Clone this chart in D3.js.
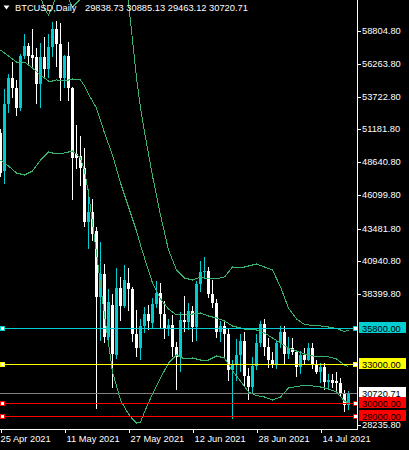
<!DOCTYPE html>
<html>
<head>
<meta charset="utf-8">
<script src="https://cdn.jsdelivr.net/npm/d3@7"></script>
<style>
  body { margin: 0; background: #000; }
  svg { display: block; font-family: "Liberation Sans", Arial, sans-serif; }
</style>
</head>
<body>
<div id="chart"></div>
<script>
// daily candles, 25 Apr 2021 .. 21 Jul 2021 (one per index)
var opens = [50933,47968,53178,55191,54371,52868,56871,57645,56949,56755,54665,56794,55826,57529,58938,57824,55168,56871,54371,49245,49129,48224,43965,44739,43323,38159,39970,35062,37600,33700,38900,37500,39300,38800,35300,34200,35900,36900,36200,37670,38520,36900,35700,36000,34300,33500,36400,36250,37100,35850,39200,40100,40200,38400,37700,35500,35950,35300,32500,32900,33700,34800,32100,31200,32800,34600,36100,34300,33300,33000,34650,35500,33800,34200,33900,32750,33700,33300,34200,32900,32400,32750,31600,31750,31650,31500,30750,29838.73];
var highs = [51220,54293,55454,56407,55013,57003,58536,57901,58938,57452,57901,58319,58574,59519,59604,59426,56949,57955,54471,51529,50678,49772,46551,45800,43578,42417,40744,38779,38400,40400,39700,40700,40400,39000,37200,36500,37400,37600,38100,39450,39300,37900,36500,36800,34700,37000,38300,37700,37500,39400,41000,41300,40500,39500,38000,36300,36300,35700,33300,34900,35300,35500,32700,33500,35300,36300,36500,35000,33900,34800,35900,35900,35100,35000,34000,34000,34200,34600,34600,33300,33100,33100,32200,32250,32350,31900,31000,30885.13];
var lows = [47503,46938,52482,53643,52226,52613,56600,56097,56020,53116,52807,55067,55168,56794,56020,53387,54394,53387,45699,48100,46807,43578,41906,42549,29519,34807,34600,34800,31150,33400,36300,37300,37100,34700,33500,33300,35400,35600,35800,37300,35700,34900,35200,33500,31000,32400,35500,35600,34700,34800,38600,39600,38100,37300,35000,34700,33400,31700,28700,31700,32400,31300,30200,30700,32500,34300,33600,32700,32700,32600,34200,33000,33400,33700,32000,32200,33000,33200,32600,32200,31500,31000,30950,31100,30800,30400,29300,29463.12];
var closes = [47836,53178,55191,54371,52868,56871,57669,56871,56693,54665,56794,55826,57568,58938,57824,55191,56871,54371,48998,48998,48224,43965,44739,43067,38159,39970,35062,37800,33800,38900,37500,39500,38800,35300,34200,35900,36900,36300,37670,38520,36900,35700,36000,34300,33500,36400,36250,37100,35850,39200,40100,40200,38400,37700,35500,35950,35300,32500,32900,33700,34800,32100,31200,32800,34600,36100,34300,33300,33000,34650,35500,33800,34200,33900,32750,33700,33300,34200,32900,32400,32750,31600,31750,31550,31500,30750,29800,30720.71];

// bollinger bands at these candle indices
var bandIdx = [0,2,4,6,8,10,11,12,13,14,16,18,20,21,22,24,26,28,30,31,32,33,34,35,36,38,40,42,44,46,48,50,52,54,56,58,60,62,64,66,68,70,72,74,76,78,80,82,84,86,87];
var upperBand = [64698,64311,63923,63147,62605,61520,60512,60047,60744,61520,61985,60667,61287,62000,63147,65861,68186,69737,68961,65086,60977,58109,55163,52837,50977,47566,44543,41830,40279,39659,39504,39737,39582,39582,39737,40512,40434,40589,40744,40512,40279,38961,37333,36481,36054,35977,35938,35861,35744,35512,35628];
var middleBand = [57334,56869,56403,56403,55938,55396,55163,54930,54930,55008,54930,55085,55008,54543,53923,52837,50900,49194,47023,46093,45163,44233,43302,42217,41209,39272,38031,37256,36791,36868,36868,36946,36713,36558,36326,35938,35783,35628,35628,35395,35008,34620,34233,34000,33767,33612,33558,33535,33380,32915,32798];
var lowerBand = [48806,48341,47799,47644,47954,48806,49117,49427,49349,49271,49349,49504,48961,47954,46248,41597,36791,32372,30202,29659,29116,28729,28419,28496,29271,30667,31907,33070,33690,33380,33457,33302,33302,33612,33457,32450,31674,30822,30550,30434,30202,30434,31132,31248,31326,31287,31209,31054,30822,30124,29969];

// horizontal levels
var levelPrices = [35800, 33000, 30000, 29000];
var levelColors = ["#00ced1", "#ffff00", "#ff0000", "#ff0000"];
var bidPrice = 30720.71;

// axis labels
var priceTicks = [58804.80, 56263.80, 53722.80, 51181.80, 48640.80, 46099.80, 43481.80, 40940.80, 38399.80, 28235.80];
var dateTicks = [0, 16, 32, 48, 64, 80];
var dateLabels = ["25 Apr 2021", "11 May 2021", "27 May 2021", "12 Jun 2021", "28 Jun 2021", "14 Jul 2021"];
var symbol = "BTCUSD,Daily";
var ohlc = "29838.73 30885.13 29463.12 30720.71";

var bullColor = "#00ced1", bearColor = "#ffffff", bandColor = "#3cb371";
var width = 409, height = 450, plotW = 358, plotH = 430;

var svg = d3.select("#chart").append("svg")
  .attr("width", width)
  .attr("height", height);

svg.append("rect").attr("width", width).attr("height", height).attr("fill", "#000");

svg.append("clipPath").attr("id", "plotClip")
  .append("rect").attr("width", plotW).attr("height", plotH - 1);

// scales: one bar every 4px, fixed price mapping from the terminal
var x = d3.scaleLinear().domain([0, 87]).range([0.5, 348.5]);
var y = d3.scaleLinear().domain([29000, 58804.8]).range([415.5, 31.02]);

var plot = svg.append("g").attr("clip-path", "url(#plotClip)");

var candles = opens.map(function(o, i) {
  return {i: i, o: o, h: highs[i], l: lows[i], c: closes[i]};
});

// wicks
plot.selectAll(".wick")
  .data(candles)
  .enter().append("rect")
  .attr("class", "wick")
  .attr("x", function(d) { return x(d.i) - 0.5; })
  .attr("y", function(d) { return Math.round(y(d.h)); })
  .attr("width", 1)
  .attr("height", function(d) { return Math.max(1, Math.round(y(d.l)) - Math.round(y(d.h))); })
  .attr("fill", function(d) { return d.c >= d.o ? bullColor : bearColor; })
  .attr("shape-rendering", "crispEdges");

// bodies
plot.selectAll(".body")
  .data(candles)
  .enter().append("rect")
  .attr("class", "body")
  .attr("x", function(d) { return x(d.i) - 1.5; })
  .attr("y", function(d) { return Math.round(y(Math.max(d.o, d.c))); })
  .attr("width", 3)
  .attr("height", function(d) {
    return Math.max(1, Math.round(y(Math.min(d.o, d.c))) - Math.round(y(Math.max(d.o, d.c))));
  })
  .attr("fill", function(d) { return d.c >= d.o ? bullColor : bearColor; })
  .attr("shape-rendering", "crispEdges");

// bands
var bandLine = d3.line()
  .x(function(d) { return x(d[0]); })
  .y(function(d) { return y(d[1]); });

[upperBand, middleBand, lowerBand].forEach(function(band) {
  plot.append("path")
    .datum(bandIdx.map(function(k, j) { return [k, band[j]]; }))
    .attr("d", bandLine)
    .attr("fill", "none")
    .attr("stroke", bandColor)
    .attr("stroke-width", 1)
    .attr("shape-rendering", "crispEdges");
});

function lineY(p) { return Math.round(y(p)) + 0.5; }

// bid line
plot.append("line")
  .attr("x1", 0).attr("x2", plotW)
  .attr("y1", lineY(bidPrice)).attr("y2", lineY(bidPrice))
  .attr("stroke", "#808080")
  .attr("shape-rendering", "crispEdges");

// levels with their end markers
levelPrices.forEach(function(p, k) {
  var ly = lineY(p);
  plot.append("line")
    .attr("x1", 0).attr("x2", plotW)
    .attr("y1", ly).attr("y2", ly)
    .attr("stroke", levelColors[k])
    .attr("shape-rendering", "crispEdges");
  [0.5, 353.5].forEach(function(mx) {
    plot.append("rect")
      .attr("x", mx).attr("y", ly - 2)
      .attr("width", 4).attr("height", 4)
      .attr("fill", "#fff")
      .attr("stroke", levelColors[k])
      .attr("shape-rendering", "crispEdges");
  });
});

// frame
svg.append("line")
  .attr("x1", plotW - 0.5).attr("x2", plotW - 0.5)
  .attr("y1", 0).attr("y2", plotH)
  .attr("stroke", "#fff").attr("shape-rendering", "crispEdges");
svg.append("line")
  .attr("x1", 0).attr("x2", plotW)
  .attr("y1", plotH - 0.5).attr("y2", plotH - 0.5)
  .attr("stroke", "#fff").attr("shape-rendering", "crispEdges");

// price axis
var yAxis = svg.append("g")
  .attr("transform", "translate(" + plotW + ",0)")
  .call(d3.axisRight(y)
    .tickValues(priceTicks)
    .tickFormat(d3.format(".2f"))
    .tickSize(3)
    .tickPadding(1));
yAxis.select(".domain").remove();
yAxis.selectAll(".tick")
  .attr("transform", function(d) { return "translate(0," + lineY(d) + ")"; });
yAxis.selectAll(".tick line").attr("stroke", "#fff").attr("shape-rendering", "crispEdges");
yAxis.selectAll(".tick text")
  .attr("fill", "#fff")
  .style("font-size", "9.3px")
  .style("font-family", "'Liberation Sans', Arial, sans-serif");

// date axis
var xAxis = svg.append("g")
  .attr("transform", "translate(0," + plotH + ")")
  .call(d3.axisBottom(x)
    .tickValues(dateTicks)
    .tickFormat(function(d, k) { return dateLabels[k]; })
    .tickSize(3));
xAxis.select(".domain").remove();
xAxis.selectAll(".tick line").attr("stroke", "#fff").attr("shape-rendering", "crispEdges");
xAxis.selectAll(".tick text")
  .attr("fill", "#fff")
  .attr("text-anchor", "start")
  .attr("x", function(d) { return d === 0 ? -0.5 : 1.5; })
  .attr("y", 5)
  .style("font-size", "9.3px")
  .style("font-family", "'Liberation Sans', Arial, sans-serif");

// level price boxes on the axis
var boxes = [
  {p: levelPrices[0], bg: levelColors[0]},
  {p: levelPrices[1], bg: levelColors[1]},
  {p: bidPrice, bg: "#ffffff"},
  {p: levelPrices[2], bg: levelColors[2]},
  {p: levelPrices[3], bg: levelColors[3]}
];
var box = svg.selectAll(".lvlbox")
  .data(boxes)
  .enter().append("g")
  .attr("class", "lvlbox")
  .attr("transform", function(d) { return "translate(359," + lineY(d.p) + ")"; });
box.append("rect")
  .attr("x", 0).attr("y", -6.5)
  .attr("width", 47).attr("height", 11)
  .attr("fill", function(d) { return d.bg; })
  .attr("shape-rendering", "crispEdges");
box.append("text")
  .attr("x", 3).attr("y", 3.3)
  .attr("fill", "#000")
  .style("font-size", "9.3px")
  .text(function(d) { return d3.format(".2f")(d.p); });

// title
svg.append("path")
  .attr("d", "M3.5,5.5 L9.5,5.5 L6.5,9.5 Z")
  .attr("fill", "#fff");
svg.append("text")
  .attr("x", 15).attr("y", 11)
  .attr("fill", "#fff")
  .style("font-size", "9.3px")
  .text(symbol);
svg.append("text")
  .attr("x", 85).attr("y", 11)
  .attr("fill", "#fff")
  .style("font-size", "9.3px")
  .text(ohlc);
</script>
</body>
</html>
